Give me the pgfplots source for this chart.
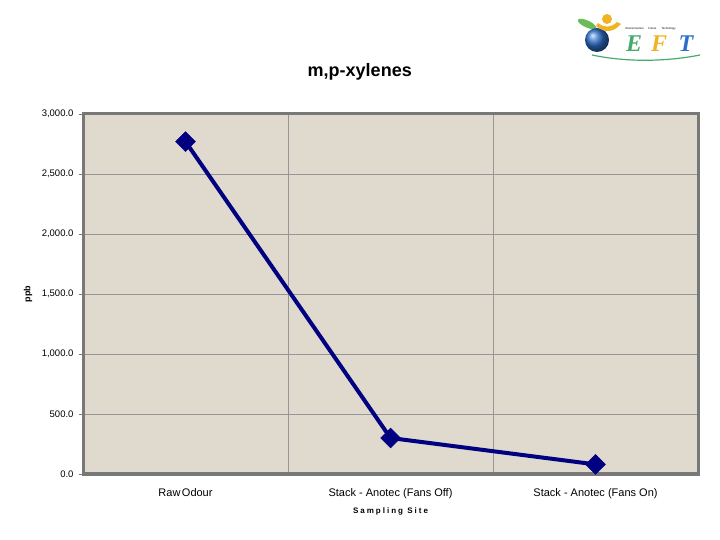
\documentclass[border=0pt]{standalone}
\usepackage{fontspec}
\setmainfont{Liberation Sans}
\newfontfamily\spaced[LetterSpace=25]{Liberation Sans}
\newfontfamily\logofont{Liberation Serif}
\usepackage{pgfplots}
\pgfplotsset{compat=1.18}

\definecolor{bgbeige}{RGB}{224,218,206}
\definecolor{navyline}{RGB}{0,0,128}
\definecolor{framegray}{RGB}{120,120,120}
\definecolor{gridgray}{RGB}{150,150,150}
\definecolor{logogreen}{RGB}{70,170,110}
\definecolor{logoyellow}{RGB}{240,180,35}
\definecolor{logoblue}{RGB}{45,110,200}

\begin{document}
\begin{tikzpicture}
\path[use as bounding box] (0,0) rectangle (720bp,540bp);

\begin{axis}[
    at={(83bp,66bp)}, anchor=south west,
    scale only axis, width=615bp, height=360bp,
    xmin=0.5, xmax=3.5, ymin=0, ymax=3000,
    xtick={1,2,3},
    xticklabels={Raw\hspace{1.5bp}Odour, Stack - Anotec (Fans Off), Stack - Anotec (Fans On)},
    minor xtick={1.5,2.5},
    xminorgrids, ymajorgrids,
    ytick={0,500,...,3000},
    major x tick style={draw=none},
    minor x tick style={draw=none},
    major y tick style={framegray, line width=0.8bp},
    tick align=outside, major tick length=4bp,
    ytick pos=left,
    grid style={gridgray, line width=0.7bp},
    minor grid style={gridgray, line width=0.7bp},
    axis line style={framegray, line width=3bp},
    axis background/.style={fill=bgbeige},
    /pgf/number format/.cd, fixed, fixed zerofill, precision=1, 1000 sep={,}, assume math mode=true,
    /pgfplots/.cd,
    yticklabel style={font=\fontsize{9.5bp}{11bp}\selectfont, xshift=-2bp},
    xticklabel style={font=\fontsize{11bp}{13bp}\selectfont, yshift=-7bp},
    title={m,p-xylenes},
    title style={font=\bfseries\fontsize{18bp}{20bp}\selectfont, at={(axis description cs:0.450,1.10)}, anchor=center},
    xlabel={Sampling Site},
    xlabel style={font=\spaced\bfseries\fontsize{8bp}{9bp}\selectfont, at={(axis description cs:0.5,-0.103)}, anchor=center},
    ylabel={ppb},
    ylabel style={font=\bfseries\fontsize{9bp}{10bp}\selectfont, at={(axis description cs:-0.0894,0.5)}, anchor=center},
]
\addplot[navyline, line width=4bp, mark=square*, mark size=7bp,
         mark options={fill=navyline, draw=navyline, line width=0.5bp, rotate=45}]
    coordinates {(1,2770) (2,300) (3,80)};
\end{axis}

% logo
\fill[logogreen!80!yellow] (587bp,516bp) ellipse [x radius=10bp, y radius=3.5bp, rotate=-25];
\shade[ball color=logoblue] (597bp,500bp) circle (12bp);
\fill[logoyellow] (607bp,521bp) circle (5bp);
\fill[logoyellow] (596bp,514bp) .. controls (604bp,507bp) and (613bp,507bp) .. (621bp,516bp)
    -- (617bp,518bp) .. controls (611bp,512bp) and (604bp,512bp) .. (598bp,517bp) -- cycle;
\draw[logogreen, line width=1.2bp] (592bp,485bp) .. controls (630bp,477bp) and (670bp,479bp) .. (700bp,485bp);
\node[font=\fontsize{2.8bp}{3bp}\selectfont, anchor=west] at (622bp,511bp) {Environmental\hspace{5bp}Future\hspace{5bp}Technology};
\node[font=\logofont\bfseries\itshape\fontsize{24bp}{24bp}\selectfont, text=logogreen] at (634bp,496bp) {E};
\node[font=\logofont\bfseries\itshape\fontsize{24bp}{24bp}\selectfont, text=logoyellow] at (659bp,496bp) {F};
\node[font=\logofont\bfseries\itshape\fontsize{24bp}{24bp}\selectfont, text=logoblue] at (686bp,496bp) {T};
\end{tikzpicture}
\end{document}
